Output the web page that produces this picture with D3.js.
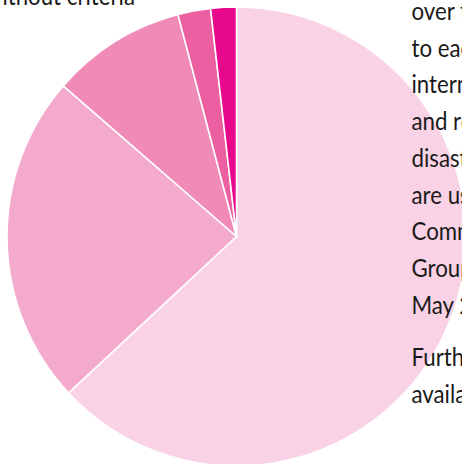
<!DOCTYPE html>
<html>
<head>
<meta charset="utf-8">
<script src="https://cdn.jsdelivr.net/npm/d3@7"></script>
<style>
  html, body { margin: 0; padding: 0; background: #fff; overflow: hidden; }
</style>
</head>
<body>
<div id="display"></div>
<script>
let w = 462;
let h = 464;

// slice shares, clockwise from 12 o'clock
const categories = ['A', 'B', 'C', 'D', 'E'];
const shares = [63.0, 23.3, 9.5, 2.3, 1.8];
const colors = ['#f9d3e5', '#f4aacc', '#f08bb8', '#ec5fa0', '#e8088c'];

const paraOne = ['over four', 'to each', 'international', 'and regional', 'disasters', 'are used', 'Common', 'Group', 'May 2021'];
const paraTwo = ['Further', 'available'];

let viz = d3.select('#display')
            .append('svg')
                .attr('width', w)
                .attr('height', h)
                .style('background-color', 'white');

let cx = 236.5;
let cy = 236.5;
let r = 229.5;

let pie = d3.pie().sort(null).value((d, i) => shares[i]);
let arc = d3.arc().innerRadius(0).outerRadius(r);

viz.append('g')
    .attr('transform', 'translate(' + cx + ',' + cy + ')')
    .selectAll('path')
    .data(pie(categories))
    .enter()
    .append('path')
        .attr('d', arc)
        .attr('fill', (d, i) => colors[i])
        .attr('stroke', 'white')
        .attr('stroke-width', 1.6);

const font = 'Lato, "Open Sans", sans-serif';
const squeeze = 0.89; // the original face is a narrow one

// caption fragment at the top left
viz.append('text')
    .attr('transform', 'translate(135,5) scale(' + squeeze + ',1)')
    .attr('text-anchor', 'end')
    .style('font-family', font)
    .style('font-size', '25px')
    .attr('fill', '#1a1a1a')
    .text('without criteria');

// body copy on the right, running off the edge
let lh = 36.7;
viz.append('g').selectAll('text')
    .data(paraOne)
    .enter()
    .append('text')
        .attr('transform', (d, i) => 'translate(411.5,' + (20 + i * lh) + ') scale(' + squeeze + ',1)')
        .style('font-family', font)
        .style('font-size', '25px')
        .attr('fill', '#1a1a1a')
        .text(d => d);

viz.append('g').selectAll('text')
    .data(paraTwo)
    .enter()
    .append('text')
        .attr('transform', (d, i) => 'translate(411.5,' + (366 + i * lh) + ') scale(' + squeeze + ',1)')
        .style('font-family', font)
        .style('font-size', '25px')
        .attr('fill', '#1a1a1a')
        .text(d => d);
</script>
</body>
</html>
